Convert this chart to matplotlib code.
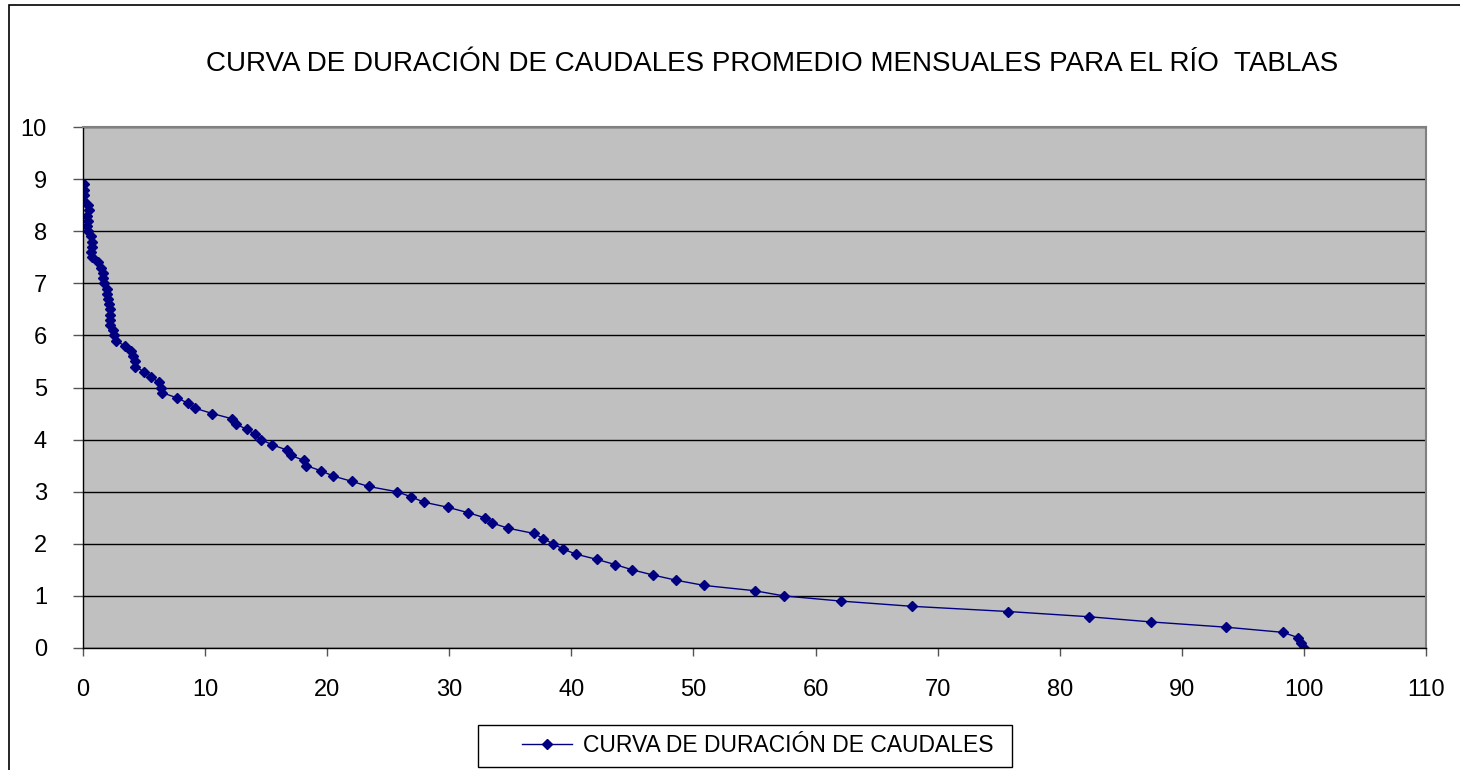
import matplotlib
matplotlib.use('Agg')
import matplotlib.pyplot as plt
from matplotlib.patches import Rectangle

plt.rcParams['font.family'] = ['Liberation Sans', 'DejaVu Sans']

# caudal (m3/s) y porcentaje de tiempo excedido
caudal = [8.9, 8.8, 8.7, 8.6, 8.5, 8.4, 8.3, 8.2, 8.1, 8.0,
          7.9, 7.8, 7.7, 7.6, 7.5, 7.4, 7.3, 7.2, 7.1, 7.0,
          6.9, 6.8, 6.7, 6.6, 6.5, 6.4, 6.3, 6.2, 6.1, 6.0,
          5.9, 5.8, 5.7, 5.6, 5.5, 5.4, 5.3, 5.2, 5.1, 5.0,
          4.9, 4.8, 4.7, 4.6, 4.5, 4.4, 4.3, 4.2, 4.1, 4.0,
          3.9, 3.8, 3.7, 3.6, 3.5, 3.4, 3.3, 3.2, 3.1, 3.0,
          2.9, 2.8, 2.7, 2.6, 2.5, 2.4, 2.3, 2.2, 2.1, 2.0,
          1.9, 1.8, 1.7, 1.6, 1.5, 1.4, 1.3, 1.2, 1.1, 1.0,
          0.9, 0.8, 0.7, 0.6, 0.5, 0.4, 0.3, 0.2, 0.1, 0.0]
porcentaje = [0.05, 0.05, 0.1, 0.0, 0.4, 0.5, 0.35, 0.4, 0.35, 0.4,
              0.65, 0.75, 0.75, 0.65, 0.75, 1.2, 1.5, 1.65, 1.65, 1.7,
              1.95, 2.0, 2.05, 2.15, 2.2, 2.2, 2.2, 2.2, 2.45, 2.55,
              2.7, 3.4, 3.9, 4.1, 4.3, 4.3, 5.0, 5.6, 6.2, 6.4,
              6.5, 7.7, 8.6, 9.2, 10.6, 12.2, 12.5, 13.4, 14.1, 14.6,
              15.5, 16.7, 17.0, 18.1, 18.3, 19.5, 20.5, 22.0, 23.4, 25.7,
              26.9, 27.9, 29.9, 31.5, 32.9, 33.5, 34.8, 36.9, 37.7, 38.5,
              39.3, 40.4, 42.1, 43.6, 45.0, 46.7, 48.6, 50.9, 55.0, 57.4,
              62.1, 67.9, 75.8, 82.4, 87.5, 93.6, 98.3, 99.5, 99.8, 100.0]

xticks = list(range(0, 111, 10))
yticks = list(range(0, 11, 1))

W, H = 1460, 770
fig = plt.figure(figsize=(W / 100, H / 100), dpi=100)

# borde exterior del grafico
fig.patches.append(Rectangle((9 / W, -0.01), 1.1, 1 - 5 / H + 0.01, transform=fig.transFigure,
                             fill=False, edgecolor='black', linewidth=1.2))

ax = fig.add_axes([83 / W, (H - 648) / H, (1426 - 83) / W, (648 - 127) / H])
ax.set_facecolor('#C0C0C0')
ax.plot(porcentaje, caudal, color='#000080', linewidth=1, marker='D', markersize=5.5,
        label='CURVA DE DURACIÓN DE CAUDALES')

ax.set_xlim(0, 110)
ax.set_ylim(0, 10)
ax.set_xticks(xticks)
ax.set_yticks(yticks)
ax.yaxis.grid(True, color='black', linewidth=1)
ax.set_axisbelow(True)
ax.tick_params(axis='x', direction='out', length=6, width=1, labelsize=17, pad=16, color='#555555')
ax.tick_params(axis='y', direction='out', length=7, width=1, labelsize=17, pad=19, color='#555555')
for side in ['top', 'right']:
    ax.spines[side].set_color('#808080')
    ax.spines[side].set_linewidth(1.5)
for side in ['left', 'bottom']:
    ax.spines[side].set_color('black')
    ax.spines[side].set_linewidth(1)

fig.text(772 / W, 1 - 64 / H, 'CURVA DE DURACIÓN DE CAUDALES PROMEDIO MENSUALES PARA EL RÍO  TABLAS',
         ha='center', va='center', fontsize=20)

# caja de la leyenda
fig.patches.append(Rectangle((478 / W, 1 - 767 / H), (1012 - 478) / W, (767 - 725) / H,
                             transform=fig.transFigure, fill=False, edgecolor='black', linewidth=1))
leg = fig.legend(loc='center left', bbox_to_anchor=(522 / W, 1 - 746 / H), fontsize=16.5,
                 frameon=False, handlelength=2.2, handletextpad=0.45,
                 borderpad=0, borderaxespad=0)

fig.savefig('out.png', dpi=100)
